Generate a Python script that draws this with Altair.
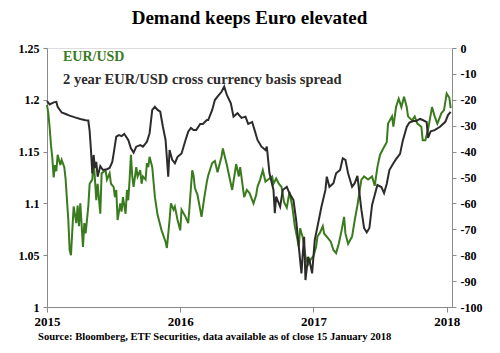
import altair as alt
import pandas as pd

# EUR/USD (left axis), time as decimal year
t_eur = [2015.00, 2015.01, 2015.02, 2015.03, 2015.04, 2015.05, 2015.06, 2015.07, 2015.08, 2015.10,
         2015.11, 2015.13, 2015.14, 2015.15, 2015.16, 2015.17, 2015.18, 2015.19, 2015.20, 2015.22,
         2015.23, 2015.24, 2015.25, 2015.27, 2015.28, 2015.29, 2015.31, 2015.32, 2015.34, 2015.35,
         2015.36, 2015.37, 2015.38, 2015.40, 2015.41, 2015.44, 2015.45, 2015.47, 2015.48, 2015.50,
         2015.51, 2015.52, 2015.53, 2015.55, 2015.56, 2015.57, 2015.59, 2015.60, 2015.61, 2015.62,
         2015.63, 2015.64, 2015.65, 2015.67, 2015.68, 2015.70, 2015.71, 2015.72, 2015.74, 2015.75,
         2015.76, 2015.77, 2015.79, 2015.81, 2015.83, 2015.86, 2015.89, 2015.90, 2015.92, 2015.93,
         2015.95, 2015.96, 2015.98, 2016.00, 2016.01, 2016.04, 2016.06, 2016.07, 2016.09, 2016.10,
         2016.11, 2016.13, 2016.16, 2016.18, 2016.20, 2016.21, 2016.24, 2016.26, 2016.28, 2016.31,
         2016.32, 2016.35, 2016.37, 2016.39, 2016.42, 2016.44, 2016.45, 2016.48, 2016.50, 2016.52,
         2016.55, 2016.57, 2016.58, 2016.60, 2016.62, 2016.64, 2016.66, 2016.69, 2016.70, 2016.72,
         2016.74, 2016.76, 2016.78, 2016.80, 2016.82, 2016.84, 2016.86, 2016.88, 2016.89, 2016.90,
         2016.92, 2016.94, 2016.96, 2016.98, 2017.00, 2017.02, 2017.03, 2017.05, 2017.07, 2017.08,
         2017.10, 2017.13, 2017.15, 2017.17, 2017.19, 2017.21, 2017.23, 2017.24, 2017.26, 2017.29,
         2017.31, 2017.33, 2017.35, 2017.36, 2017.38, 2017.41, 2017.44, 2017.46, 2017.48, 2017.50,
         2017.52, 2017.55, 2017.56, 2017.59, 2017.60, 2017.62, 2017.64, 2017.66, 2017.68, 2017.70,
         2017.71, 2017.74, 2017.76, 2017.78, 2017.81, 2017.82, 2017.84, 2017.86, 2017.89, 2017.91,
         2017.93, 2017.96, 2017.98, 2018.00, 2018.02, 2018.03]
eur = [1.195, 1.187, 1.173, 1.156, 1.144, 1.125, 1.137, 1.131, 1.147, 1.137,
       1.142, 1.135, 1.123, 1.103, 1.084, 1.055, 1.050, 1.074, 1.097, 1.081,
       1.098, 1.078, 1.100, 1.058, 1.081, 1.071, 1.097, 1.119, 1.123, 1.142,
       1.123, 1.103, 1.119, 1.090, 1.129, 1.132, 1.123, 1.129, 1.119, 1.116,
       1.106, 1.113, 1.084, 1.100, 1.092, 1.106, 1.090, 1.113, 1.103, 1.123,
       1.147, 1.126, 1.116, 1.135, 1.126, 1.132, 1.119, 1.126, 1.123, 1.139,
       1.135, 1.145, 1.135, 1.106, 1.089, 1.074, 1.063, 1.057, 1.084, 1.100,
       1.094, 1.097, 1.084, 1.074, 1.094, 1.087, 1.081, 1.097, 1.132, 1.127,
       1.115, 1.108, 1.087, 1.105, 1.121, 1.127, 1.139, 1.141, 1.130, 1.145,
       1.153, 1.137, 1.125, 1.113, 1.138, 1.126, 1.135, 1.106, 1.113, 1.110,
       1.100, 1.108, 1.116, 1.123, 1.132, 1.121, 1.123, 1.126, 1.119, 1.124,
       1.119, 1.116, 1.101, 1.096, 1.111, 1.098, 1.078, 1.065, 1.058, 1.076,
       1.067, 1.049, 1.041, 1.046, 1.049, 1.058, 1.068, 1.072, 1.078, 1.071,
       1.068, 1.063, 1.055, 1.052, 1.061, 1.073, 1.087, 1.071, 1.061, 1.068,
       1.084, 1.098, 1.115, 1.123, 1.126, 1.123, 1.126, 1.117, 1.135, 1.147,
       1.152, 1.159, 1.177, 1.184, 1.174, 1.193, 1.201, 1.193, 1.203, 1.193,
       1.184, 1.180, 1.184, 1.177, 1.174, 1.161, 1.161, 1.171, 1.193, 1.184,
       1.177, 1.187, 1.190, 1.206, 1.202, 1.192]

# 2 year EUR/USD cross currency basis spread (right axis)
t_basis = [2015.00, 2015.02, 2015.05, 2015.07, 2015.08, 2015.11, 2015.14, 2015.17, 2015.21, 2015.25,
           2015.29, 2015.31, 2015.32, 2015.33, 2015.34, 2015.35, 2015.36, 2015.37, 2015.38, 2015.40,
           2015.42, 2015.45, 2015.47, 2015.49, 2015.50, 2015.51, 2015.52, 2015.54, 2015.56, 2015.58,
           2015.61, 2015.63, 2015.65, 2015.67, 2015.70, 2015.72, 2015.75, 2015.77, 2015.79, 2015.81,
           2015.83, 2015.85, 2015.87, 2015.89, 2015.91, 2015.92, 2015.94, 2015.96, 2015.98, 2016.01,
           2016.04, 2016.06, 2016.08, 2016.10, 2016.12, 2016.15, 2016.17, 2016.20, 2016.21, 2016.24,
           2016.26, 2016.28, 2016.31, 2016.33, 2016.35, 2016.38, 2016.40, 2016.43, 2016.46, 2016.49,
           2016.51, 2016.54, 2016.56, 2016.58, 2016.61, 2016.64, 2016.65, 2016.67, 2016.70, 2016.71,
           2016.72, 2016.75, 2016.77, 2016.80, 2016.82, 2016.85, 2016.87, 2016.89, 2016.91, 2016.92,
           2016.93, 2016.94, 2016.96, 2016.97, 2016.99, 2017.01, 2017.03, 2017.06, 2017.09, 2017.10,
           2017.12, 2017.15, 2017.17, 2017.20, 2017.22, 2017.24, 2017.26, 2017.29, 2017.31, 2017.33,
           2017.36, 2017.38, 2017.40, 2017.42, 2017.44, 2017.46, 2017.48, 2017.51, 2017.53, 2017.55,
           2017.57, 2017.60, 2017.62, 2017.65, 2017.67, 2017.70, 2017.72, 2017.75, 2017.77, 2017.80,
           2017.82, 2017.85, 2017.86, 2017.88, 2017.91, 2017.95, 2017.99, 2018.01, 2018.03]
basis = [-20.5, -21.8, -21.0, -20.8, -22.7, -24.9, -25.5, -26.1, -26.8, -27.4,
         -27.9, -28.0, -32.0, -39.4, -48.4, -41.3, -46.3, -44.0, -49.7, -45.6,
         -47.1, -46.8, -46.3, -44.0, -40.9, -37.5, -34.2, -33.6, -34.0, -33.2,
         -35.5, -38.7, -40.4, -38.1, -37.5, -38.1, -36.2, -32.9, -23.9, -22.7,
         -23.9, -24.6, -30.4, -35.5, -49.7, -39.4, -43.2, -44.5, -42.0, -40.7,
         -35.5, -32.3, -30.9, -31.7, -31.7, -29.3, -29.3, -27.8, -27.8, -23.9,
         -20.1, -18.8, -16.9, -14.9, -18.1, -21.4, -26.5, -25.2, -27.0, -26.5,
         -29.3, -28.6, -32.0, -35.5, -38.1, -39.4, -38.1, -48.4, -54.8, -63.8,
         -57.4, -61.3, -54.8, -53.6, -56.1, -58.7, -66.4, -76.7, -87.0, -79.3,
         -72.9, -89.6, -80.6, -81.9, -87.0, -74.1, -69.0, -61.3, -54.8, -49.7,
         -53.6, -52.2, -48.4, -47.1, -42.6, -43.2, -48.4, -53.6, -52.2, -49.4,
         -62.5, -69.5, -71.2, -69.5, -60.6, -56.8, -52.9, -53.7, -56.0, -52.5,
         -47.1, -44.5, -42.9, -40.9, -35.9, -30.5, -28.8, -28.2, -28.2, -27.4,
         -27.8, -28.6, -34.7, -32.2, -31.7, -30.4, -28.5, -25.9, -24.7]

year_ticks = [2015, 2016, 2017, 2018]
left_ticks = [1, 1.05, 1.1, 1.15, 1.2, 1.25]
right_ticks = [0, -10, -20, -30, -40, -50, -60, -70, -80, -90, -100]

GREEN = "#3a7b1e"
DARK = "#2e2b2b"
AXIS_GRAY = "#8a8a8a"
FONT = "Liberation Serif"

df_eur = pd.DataFrame({"t": t_eur, "v": eur})
df_basis = pd.DataFrame({"t": t_basis, "v": basis})

x_enc = alt.X(
    "t:Q",
    scale=alt.Scale(domain=[2015, 2018.04], nice=False, zero=False),
    axis=alt.Axis(values=year_ticks, format="d", title=None, grid=False,
                  domainColor=AXIS_GRAY, tickColor=AXIS_GRAY, tickSize=5,
                  labelFont=FONT, labelFontWeight="bold", labelFontSize=13,
                  labelColor="black", labelPadding=3, labelFlush=False),
)

eur_line = alt.Chart(df_eur).mark_line(color=GREEN, strokeWidth=2).encode(
    x=x_enc,
    y=alt.Y("v:Q", scale=alt.Scale(domain=[1, 1.25], nice=False, zero=False),
            axis=alt.Axis(orient="left", values=left_ticks, format="~g", title=None,
                          grid=False, domainColor=AXIS_GRAY, tickColor=AXIS_GRAY,
                          tickSize=4, labelFont=FONT, labelFontWeight="bold",
                          labelFontSize=12, labelColor="black", labelPadding=4)),
)

basis_line = alt.Chart(df_basis).mark_line(color=DARK, strokeWidth=2).encode(
    x=x_enc,
    y=alt.Y("v:Q", scale=alt.Scale(domain=[-100, 0], nice=False, zero=False),
            axis=alt.Axis(orient="right", values=right_ticks, title=None, grid=False,
                          labelExpr="'' + datum.value",
                          domainColor=AXIS_GRAY, tickColor=AXIS_GRAY, tickSize=4,
                          labelFont=FONT, labelFontWeight="bold", labelFontSize=12,
                          labelColor="black", labelPadding=4)),
)

label_eur = alt.Chart(pd.DataFrame({"s": ["EUR/USD"]})).mark_text(
    align="left", baseline="alphabetic", font=FONT, fontWeight="bold",
    fontSize=14, color=GREEN
).encode(x=alt.value(16), y=alt.value(13), text="s:N")

label_basis = alt.Chart(pd.DataFrame({"s": ["2 year EUR/USD  cross currency basis spread"]})).mark_text(
    align="left", baseline="alphabetic", font=FONT, fontWeight="bold",
    fontSize=14.5, color=DARK
).encode(x=alt.value(16), y=alt.value(36), text="s:N")

source = alt.Chart(pd.DataFrame({"s": ["Source: Bloomberg, ETF Securities, data available as of close 15 January 2018"]})).mark_text(
    align="left", baseline="alphabetic", font=FONT, fontWeight="bold",
    fontSize=10.6, color="black"
).encode(x=alt.value(-9), y=alt.value(292), text="s:N")

chart = alt.layer(eur_line, basis_line, label_eur, label_basis, source).resolve_scale(
    y="independent"
).properties(
    width=405,
    height=259,
    autosize=alt.AutoSizeParams(type="none"),
    padding={"left": 47, "top": 48, "right": 48, "bottom": 46},
    title=alt.TitleParams("Demand keeps Euro elevated", font=FONT, fontWeight="bold",
                          fontSize=19, color="black", anchor="middle", offset=14),
).configure_view(stroke=None).configure(background="white")

chart.save("out.html", embed_options={"renderer": "svg", "actions": False})
